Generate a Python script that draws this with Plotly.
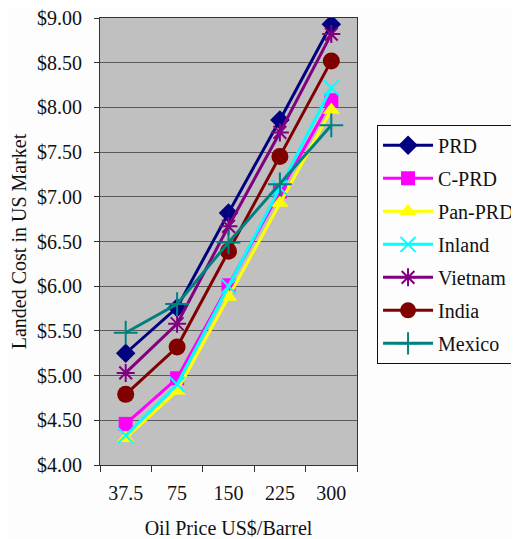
import plotly.graph_objects as go

categories = ["37.5", "75", "150", "225", "300"]
series_names = ["PRD", "C-PRD", "Pan-PRD", "Inland", "Vietnam", "India", "Mexico"]
prd = [5.25, 5.76, 6.82, 7.86, 8.93]
c_prd = [4.46, 4.97, 6.01, 7.06, 8.08]
pan_prd = [4.30, 4.83, 5.88, 6.93, 7.97]
inland = [4.33, 4.90, 6.00, 7.10, 8.22]
vietnam = [5.03, 5.58, 6.67, 7.72, 8.82]
india = [4.79, 5.32, 6.39, 7.45, 8.52]
mexico = [5.48, 5.80, 6.49, 7.14, 7.80]
y_ticks = [4.0, 4.5, 5.0, 5.5, 6.0, 6.5, 7.0, 7.5, 8.0, 8.5, 9.0]
y_ticktext = ["$4.00", "$4.50", "$5.00", "$5.50", "$6.00", "$6.50", "$7.00",
              "$7.50", "$8.00", "$8.50", "$9.00"]

values = [prd, c_prd, pan_prd, inland, vietnam, india, mexico]
colors = ["#000080", "#ff00ff", "#ffff00", "#00ffff", "#800080", "#800000", "#008080"]
symbols = ["diamond", "square", "triangle-up", "x-thin", "asterisk", "circle", "cross-thin"]
sizes = [15, 14, 15, 15, 15, 17, 17]

FONT = "Liberation Serif"

fig = go.Figure()
for name, vals, c, s, sz in zip(series_names, values, colors, symbols, sizes):
    thin = s.endswith("thin") or s == "asterisk"
    fig.add_trace(go.Scatter(
        x=categories, y=vals, name=name, mode="lines+markers", legendgroup=name,
        line=dict(color=c, width=3),
        marker=dict(symbol=s, size=sz, color=c,
                    line=dict(color=c, width=2 if thin else 0)),
    ))

fig.update_layout(
    width=511, height=531,
    margin=dict(l=92, r=162, t=10, b=74, autoexpand=False),
    paper_bgcolor="#fdfdfd",
    plot_bgcolor="#c0c0c0",
    font=dict(family=FONT, size=20, color="#111"),
    legend=dict(x=1.078, y=0.761, xanchor="left", yanchor="top",
                bgcolor="#fdfdfd", bordercolor="#111", borderwidth=1,
                font=dict(family=FONT, size=20, color="#111"), tracegroupgap=4,
                itemwidth=50),
    xaxis=dict(type="category",
               title=dict(text="Oil Price US$/Barrel", standoff=22,
                          font=dict(family=FONT, size=20)),
               tickfont=dict(family=FONT, size=20), ticklabelstandoff=10,
               showgrid=False, ticks="outside", tickson="boundaries", ticklen=6,
               tickcolor="#333", linecolor="#333", showline=True, mirror=True,
               range=[-0.5, 4.5], automargin=False),
    yaxis=dict(title=dict(text="Landed Cost in US Market", standoff=8,
                          font=dict(family=FONT, size=20)),
               tickfont=dict(family=FONT, size=20), ticklabelstandoff=8,
               ticklabeloverflow="allow",
               range=[4.0, 9.0], tickvals=y_ticks, ticktext=y_ticktext,
               gridcolor="#5a5a5a", gridwidth=1, ticks="outside", ticklen=5,
               tickcolor="#333", linecolor="#333", showline=True, mirror=True,
               zeroline=False, automargin=False),
)

fig.write_html("out.html")
